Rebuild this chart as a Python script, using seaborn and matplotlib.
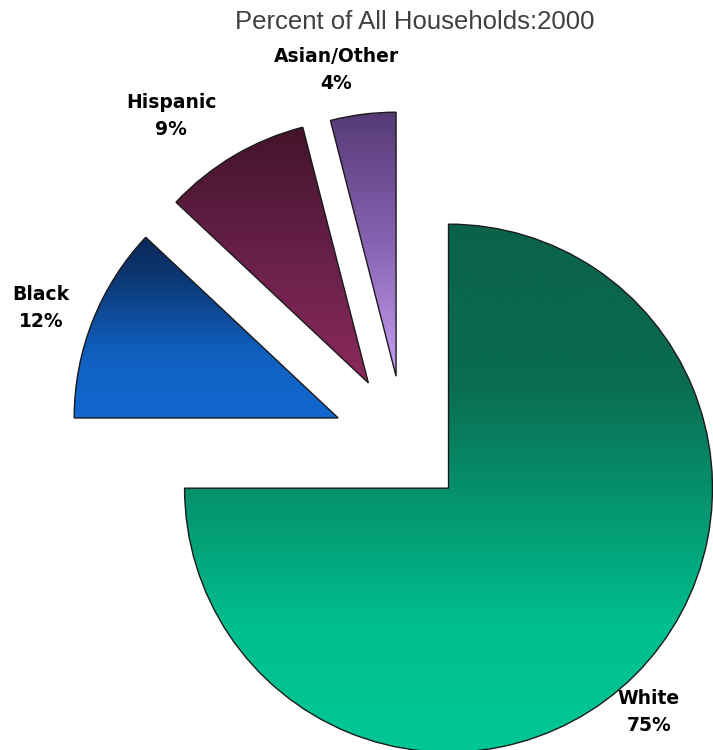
import numpy as np
import matplotlib
matplotlib.use("Agg")
import matplotlib.pyplot as plt
from matplotlib.colors import LinearSegmentedColormap
import seaborn as sns

# ---- data ----
categories = ["White", "Black", "Hispanic", "Asian/Other"]
percents = [75, 12, 9, 4]
title_text = "Percent of All Households:2000"

# ---- style ----
sns.set_theme(style="white")
plt.rcParams["font.family"] = ["DejaVu Sans"]

explode = [0.235, 0.271, 0.27, 0.26]
gradients = [
    [(0.0, "#0a624a"), (0.3, "#0a6c51"), (0.75, "#00be8e"), (1.0, "#00c896")],
    [(0.0, "#0a2856"), (0.2, "#0c3670"), (0.65, "#1060c0"), (1.0, "#1268cf")],
    [(0.0, "#43142a"), (0.5, "#67204a"), (1.0, "#8c2a5c")],
    [(0.0, "#563a76"), (0.5, "#8664b2"), (1.0, "#c89ef4")],
]
# label centres (data units, relative to pie centre)
label_pos = [(0.925, -1.013), (-1.377, 0.516), (-0.885, 1.244), (-0.26, 1.418)]

fig = plt.figure(figsize=(7.13, 7.5), dpi=100)
ax = fig.add_axes([0, 0, 1, 1])

labels = [f"{c}\n{p}%" for c, p in zip(categories, percents)]
wedges, texts = ax.pie(
    percents, labels=labels, explode=explode, startangle=90, counterclock=False,
    labeldistance=1.2,
    wedgeprops=dict(edgecolor="#1a1a1a", linewidth=1.0),
    textprops=dict(fontsize=13.5, fontweight="bold", color="black",
                   ha="center", va="center", multialignment="center",
                   linespacing=1.55),
)

grad = np.linspace(0, 1, 256).reshape(-1, 1)
for w, stops in zip(wedges, gradients):
    verts = w.get_patch_transform().transform(w.get_path().vertices)
    x0, y0 = verts.min(axis=0)
    x1, y1 = verts.max(axis=0)
    cmap = LinearSegmentedColormap.from_list("g", stops)
    im = ax.imshow(grad, cmap=cmap, extent=(x0, x1, y0, y1), origin="upper",
                   aspect="auto", zorder=1, interpolation="bilinear")
    im.set_clip_path(w)
    w.set_facecolor("none")
    w.set_zorder(2)

for t, pos in zip(texts, label_pos):
    t.set_position(pos)

ax.set_xlim(-1.533, 1.168)
ax.set_ylim(-1.158, 1.683)
ax.set_axis_off()

fig.text(0.582, 0.971, title_text, ha="center", va="center",
         fontsize=18.5, color="#404040", family="Liberation Sans")

fig.savefig("out.png", dpi=100)
